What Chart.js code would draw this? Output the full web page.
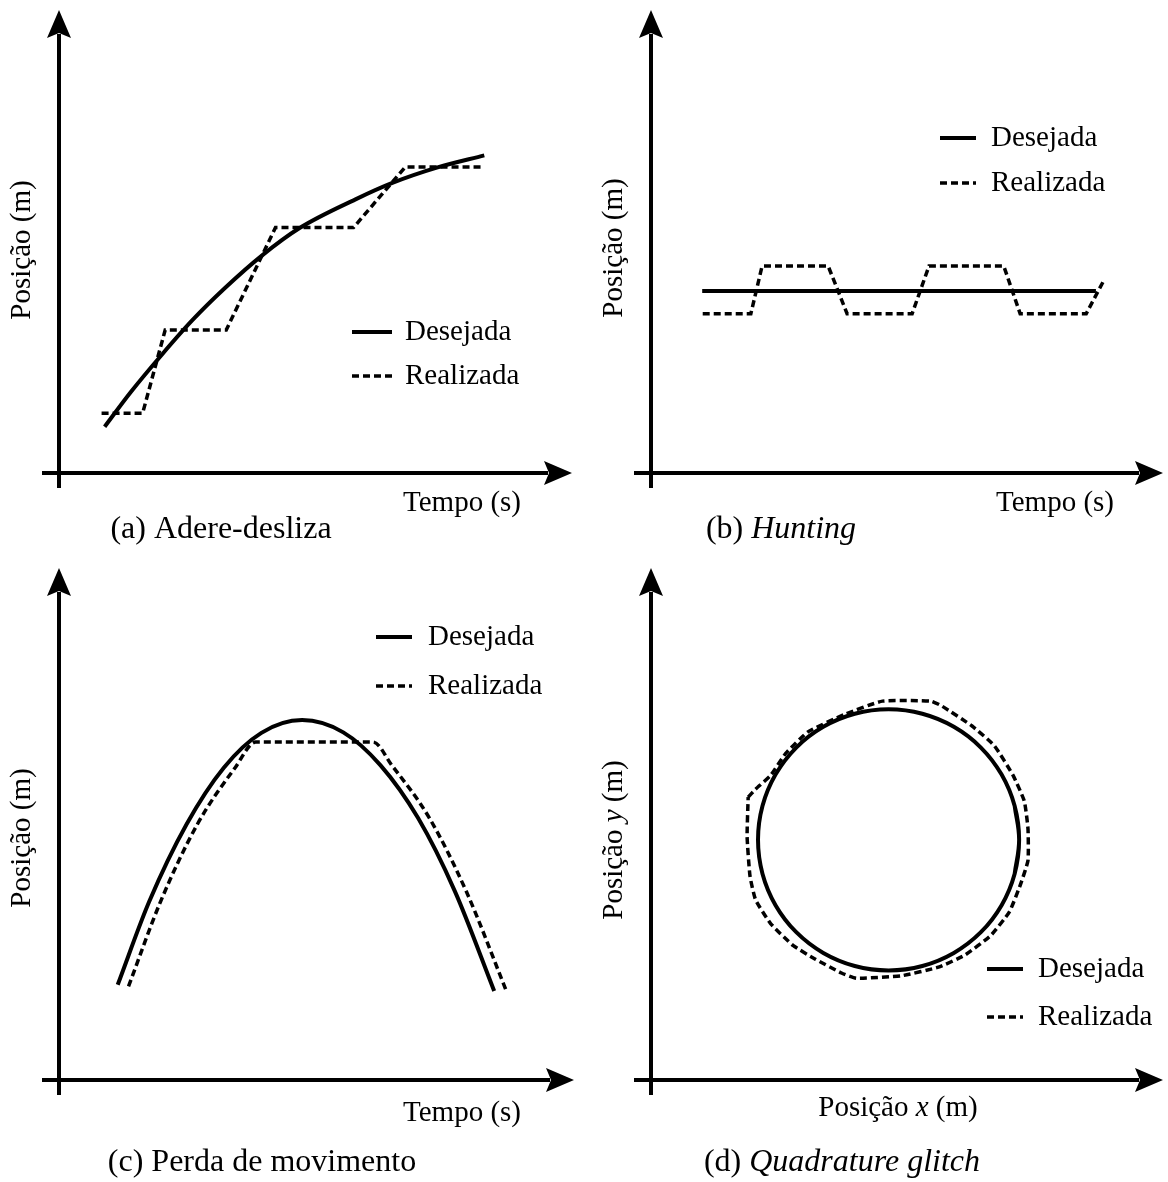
<!DOCTYPE html>
<html lang="pt">
<head>
<meta charset="utf-8">
<title>Erros de posicionamento</title>
<script src="https://cdn.jsdelivr.net/npm/chart.js@4.4.1/dist/chart.umd.min.js"></script>
<style>
  html, body { margin: 0; padding: 0; background: #fff; }
  #page { position: relative; width: 1168px; height: 1182px; }
  .panel { position: absolute; }
  .panel canvas { display: block; }
</style>
</head>
<body>
<div id="page">
  <div class="panel" style="left:0;top:0"><canvas id="chart-a" width="584" height="560"></canvas></div>
  <div class="panel" style="left:584px;top:0"><canvas id="chart-b" width="584" height="560"></canvas></div>
  <div class="panel" style="left:0;top:560px"><canvas id="chart-c" width="584" height="622"></canvas></div>
  <div class="panel" style="left:584px;top:560px"><canvas id="chart-d" width="584" height="622"></canvas></div>
</div>
<script>
(function () {
  'use strict';

  // Valores (0..100 em cada eixo, origem no cruzamento dos eixos)
  const seriesLabels = ['Desejada', 'Realizada'];

  // (a) Adere-desliza
  const adereDesejada = [[8.9, 10.0], [14, 17.5], [20, 25.5], [26, 33], [32.4, 40], [39.6, 47],
    [46.9, 52.9], [57.8, 59.1], [65.1, 62.7], [73.8, 66.0], [82.9, 68.6]];
  const adereRealizada = [[8.3, 12.9], [16.3, 12.9], [20.7, 30.9], [32.6, 30.9], [42.2, 53.0],
    [57.4, 53.0], [67.5, 66.1], [82.3, 66.1]];

  // (b) Hunting
  const huntingDesejada = [[10, 39.3], [86.9, 39.3]];
  const huntingRealizada = [[10.1, 34.4], [19.5, 34.4], [21.7, 44.7], [34.6, 44.7], [38.3, 34.4],
    [51.0, 34.4], [54.3, 44.7], [68.9, 44.7], [72.1, 34.4], [85.0, 34.4], [88.3, 41.3]];

  // (c) Perda de movimento
  const perdaDesejada = [[11.4, 18.6], [17.5, 34.8], [24.8, 50.0], [32.0, 61.0], [39.3, 67.8],
    [47.2, 70.3], [55.2, 67.9], [62.4, 61.5], [69.7, 51.2], [76.9, 36.8], [84.5, 17.4]];
  const perdaRealizada = [[13.5, 18.3], [19.7, 34.8], [26.9, 50.0], [34.2, 61.0], [38.2, 66.0],
    [61.0, 66.0], [64.6, 61.5], [71.9, 51.2], [79.1, 36.8], [86.9, 17.3]];

  // (d) Quadrature glitch
  const quadDesejada = [[71.03, 40.3], [71.9, 46.9], [71.03, 53.5], [68.48, 59.65], [64.43, 64.93],
    [59.15, 68.98], [53.0, 71.53], [46.4, 72.4], [39.8, 71.53], [33.65, 68.98], [28.37, 64.93],
    [24.32, 59.65], [21.77, 53.5], [20.9, 46.9], [21.77, 40.3], [24.32, 34.15], [28.37, 28.87],
    [33.65, 24.82], [39.8, 22.27], [46.4, 21.4], [53.0, 22.27], [59.15, 24.82], [64.43, 28.87],
    [68.48, 34.15], [71.03, 40.3], [71.9, 46.9], [71.03, 53.5]];
  const quadRealizada = [[18.98, 55.24], [20.43, 56.80], [23.36, 59.49], [26.27, 63.73], [30.64, 67.99],
    [37.93, 71.45], [45.21, 74.0], [54.69, 74.0], [56.88, 73.0], [62.71, 69.14], [67.07, 65.27],
    [70.72, 59.49], [72.91, 54.47], [73.63, 49.06], [73.63, 42.89], [72.19, 38.26], [70.0, 32.85],
    [66.35, 28.22], [61.25, 24.36], [56.15, 22.05], [48.86, 20.35], [40.12, 19.88], [37.20, 20.90],
    [32.10, 23.59], [27.73, 26.29], [23.36, 30.55], [20.43, 35.18], [19.34, 39.80], [18.77, 47.52],
    [18.98, 55.24]];

  const FONT = '"Liberation Serif", "Times New Roman", serif';

  function toXY(pairs) {
    return pairs.map(p => ({ x: p[0], y: p[1] }));
  }

  // Texto com partes em itálico, centrado em (cx, cy)
  function drawRich(ctx, parts, cx, cy, size, angle) {
    let total = 0;
    const widths = parts.map(p => {
      ctx.font = (p.i ? 'italic ' : '') + size + 'px ' + FONT;
      const w = ctx.measureText(p.t).width;
      total += w;
      return w;
    });
    ctx.save();
    ctx.translate(cx, cy);
    ctx.rotate(angle || 0);
    ctx.textBaseline = 'middle';
    ctx.textAlign = 'left';
    let x = -total / 2;
    parts.forEach((p, k) => {
      ctx.font = (p.i ? 'italic ' : '') + size + 'px ' + FONT;
      ctx.fillText(p.t, x, 0);
      x += widths[k];
    });
    ctx.restore();
  }

  // Eixos com setas, títulos dos eixos, legenda e legenda do painel
  const schematicPlugin = {
    id: 'schematic',
    afterDatasetsDraw(chart, args, opts) {
      const ctx = chart.ctx;
      const xs = chart.scales.x;
      const ys = chart.scales.y;
      const ox = xs.getPixelForValue(0);
      const oy = ys.getPixelForValue(0);
      const tx = xs.getPixelForValue(100);
      const ty = ys.getPixelForValue(100);

      ctx.save();
      ctx.strokeStyle = '#000';
      ctx.fillStyle = '#000';
      ctx.lineWidth = 4;
      ctx.setLineDash([]);

      ctx.beginPath();
      ctx.moveTo(ox, oy + 15);
      ctx.lineTo(ox, ty + 24);
      ctx.stroke();
      ctx.beginPath();
      ctx.moveTo(ox - 17, oy);
      ctx.lineTo(tx - 24, oy);
      ctx.stroke();

      ctx.beginPath();
      ctx.moveTo(ox, ty);
      ctx.lineTo(ox - 12, ty + 28);
      ctx.lineTo(ox, ty + 23);
      ctx.lineTo(ox + 12, ty + 28);
      ctx.closePath();
      ctx.fill();

      ctx.beginPath();
      ctx.moveTo(tx, oy);
      ctx.lineTo(tx - 28, oy - 12);
      ctx.lineTo(tx - 23, oy);
      ctx.lineTo(tx - 28, oy + 12);
      ctx.closePath();
      ctx.fill();

      // legenda
      const lg = opts.legend;
      chart.data.datasets.forEach((ds, i) => {
        const y = lg.ys[i];
        ctx.lineWidth = ds.borderWidth;
        ctx.setLineDash(ds.borderDash || []);
        ctx.beginPath();
        ctx.moveTo(lg.x1, y);
        ctx.lineTo(lg.x2, y);
        ctx.stroke();
        ctx.setLineDash([]);
        ctx.font = opts.fontSize + 'px ' + FONT;
        ctx.textAlign = 'left';
        ctx.textBaseline = 'middle';
        ctx.fillText(ds.label, lg.textX, y);
      });

      drawRich(ctx, opts.yTitle.parts, opts.yTitle.x, opts.yTitle.y, opts.fontSize, -Math.PI / 2);
      drawRich(ctx, opts.xTitle.parts, opts.xTitle.x, opts.xTitle.y, opts.fontSize, 0);
      drawRich(ctx, opts.caption.parts, opts.caption.x, opts.caption.y, opts.captionSize, 0);
      ctx.restore();
    }
  };

  function makeChart(id, desejada, realizada, style, padding, texts) {
    const ctx = document.getElementById(id).getContext('2d');
    return new Chart(ctx, {
      type: 'line',
      data: {
        datasets: [{
          label: seriesLabels[0],
          data: toXY(desejada),
          borderColor: '#000',
          borderWidth: 4,
          pointRadius: 0,
          fill: false,
          tension: style.solidTension,
          cubicInterpolationMode: style.solidMode
        }, {
          label: seriesLabels[1],
          data: toXY(realizada),
          borderColor: '#000',
          borderWidth: 3.5,
          borderDash: [7, 4],
          pointRadius: 0,
          fill: false,
          tension: style.dashTension,
          cubicInterpolationMode: style.dashMode
        }]
      },
      options: {
        responsive: false,
        animation: false,
        layout: { padding: padding },
        scales: {
          x: { type: 'linear', min: 0, max: 100, display: false },
          y: { type: 'linear', min: 0, max: 100, display: false }
        },
        plugins: {
          legend: { display: false },
          tooltip: { enabled: false },
          schematic: texts
        }
      },
      plugins: [schematicPlugin]
    });
  }

  const posicaoM = [{ t: 'Posição (m)' }];
  const tempoS = [{ t: 'Tempo (s)' }];

  makeChart('chart-a', adereDesejada, adereRealizada,
    { solidTension: 0, solidMode: 'monotone', dashTension: 0, dashMode: 'default' },
    { left: 59, right: 12, top: 10, bottom: 87 },
    {
      fontSize: 29, captionSize: 32,
      legend: { x1: 352, x2: 392, textX: 405, ys: [332, 376] },
      yTitle: { parts: posicaoM, x: 22, y: 250 },
      xTitle: { parts: tempoS, x: 462, y: 503 },
      caption: { parts: [{ t: '(a) Adere-desliza' }], x: 221, y: 530 }
    });

  makeChart('chart-b', huntingDesejada, huntingRealizada,
    { solidTension: 0, solidMode: 'default', dashTension: 0, dashMode: 'default' },
    { left: 67, right: 5, top: 10, bottom: 87 },
    {
      fontSize: 29, captionSize: 32,
      legend: { x1: 356, x2: 392, textX: 407, ys: [138, 183] },
      yTitle: { parts: posicaoM, x: 30, y: 248 },
      xTitle: { parts: tempoS, x: 471, y: 503 },
      caption: { parts: [{ t: '(b) ' }, { t: 'Hunting', i: true }], x: 197, y: 530 }
    });

  makeChart('chart-c', perdaDesejada, perdaRealizada,
    { solidTension: 0, solidMode: 'monotone', dashTension: 0, dashMode: 'monotone' },
    { left: 59, right: 10, top: 8, bottom: 102 },
    {
      fontSize: 29, captionSize: 32,
      legend: { x1: 376, x2: 412, textX: 428, ys: [77, 126] },
      yTitle: { parts: posicaoM, x: 22, y: 278 },
      xTitle: { parts: tempoS, x: 462, y: 553 },
      caption: { parts: [{ t: '(c) Perda de movimento' }], x: 262, y: 603 }
    });

  makeChart('chart-d', quadDesejada, quadRealizada,
    { solidTension: 0.4, solidMode: 'default', dashTension: 0.15, dashMode: 'default' },
    { left: 67, right: 5, top: 8, bottom: 102 },
    {
      fontSize: 29, captionSize: 32,
      legend: { x1: 403, x2: 439, textX: 454, ys: [409, 457] },
      yTitle: { parts: [{ t: 'Posição ' }, { t: 'y', i: true }, { t: ' (m)' }], x: 30, y: 280 },
      xTitle: { parts: [{ t: 'Posição ' }, { t: 'x', i: true }, { t: ' (m)' }], x: 314, y: 548 },
      caption: { parts: [{ t: '(d) ' }, { t: 'Quadrature glitch', i: true }], x: 258, y: 603 }
    });
})();
</script>
</body>
</html>
